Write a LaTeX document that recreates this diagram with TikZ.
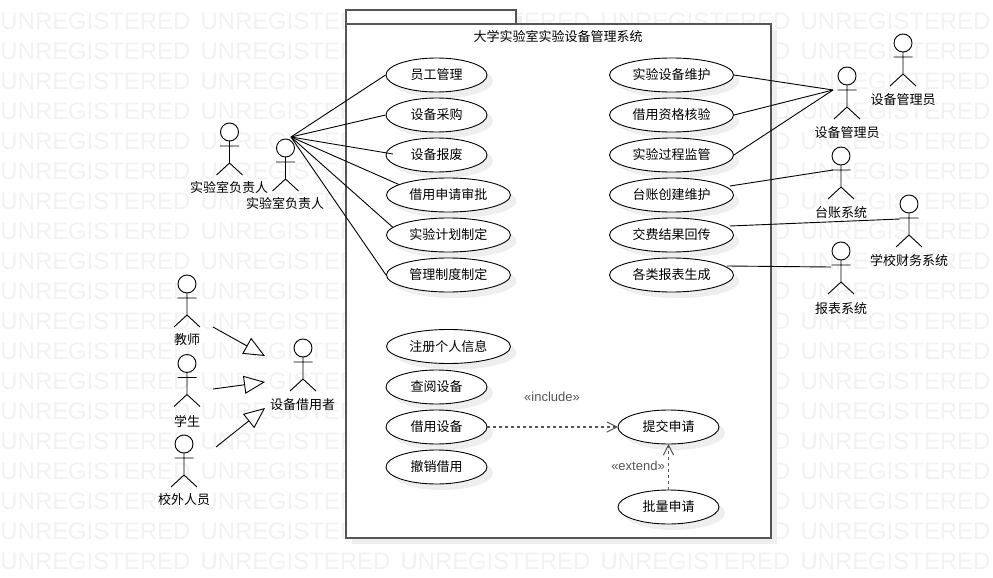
\documentclass[tikz,border=0pt]{standalone}
\usepackage{fontspec}
\setmainfont{Liberation Sans}
\newfontfamily\cjkfam{Noto Sans CJK SC}
\usetikzlibrary{shapes.geometric,arrows.meta,shadows}
\definecolor{wmgray}{HTML}{F2F2F2}
\definecolor{shadegray}{HTML}{EEEEEE}
\definecolor{framegray}{HTML}{555555}
\tikzset{
  wmtext/.style={font=\fontsize{23.9}{26}\selectfont,text=wmgray,inner sep=0pt,anchor=west},
  usecase/.style={shape=ellipse,draw=black,fill=white,line width=0.9pt,inner sep=0pt,
    minimum height=34pt,font=\cjkfam\fontsize{13}{15}\selectfont,
    general shadow={fill=shadegray,shadow xshift=6pt,shadow yshift=-6pt}},
  ucshort/.style={usecase,minimum width=101pt},
  uclong/.style={usecase,minimum width=124pt},
  actorlabel/.style={inner sep=0pt,font=\cjkfam\fontsize{13}{15}\selectfont},
  stereo/.style={inner sep=0pt,text=framegray,font=\fontsize{13}{15}\selectfont},
  assoc/.style={draw=black,line width=0.9pt},
  gener/.style={draw=black,line width=0.9pt,-{Triangle[open,length=21pt,width=18pt,fill=white]}},
  depend/.style={draw=framegray,line width=1.1pt,dash pattern=on 3pt off 3pt,-{Straight Barb[length=10pt,width=10pt,line width=1pt,round=false]}},
  frameline/.style={draw=framegray,line width=1.5pt,fill=white},
  figure/.pic={
    \draw[black,line width=0.9pt] (-9.5,14) -- (9.5,14) (0,9) -- (0,31) (-13,43) -- (0,31) -- (13,43);
    \draw[black,line width=0.9pt,fill=white] (0,0) circle [radius=9pt];
  }
}
\begin{document}
\begin{tikzpicture}[x=1pt,y=-1pt]
\useasboundingbox (0,0) rectangle (993,578);
\fill[white] (0,0) rectangle (993,578);
% watermark
\foreach \cx in {0,200,400,600,800}
  \foreach \ry in {21.5,51.5,...,561.5}
    \node[wmtext] at (\cx+0.3,\ry) {UNREGISTERED};
% system frame
\fill[shadegray] (352,30) rectangle (777,544);
\fill[shadegray] (352,16) rectangle (522,30);
\path[frameline] (346,10) rectangle (516,24);
\path[frameline] (346,24) rectangle (771,538);
\node[actorlabel] (title) at (558,37) {大学实验室实验设备管理系统};
% left use cases
\node[ucshort] (u1) at (436.5,75) {员工管理};
\node[ucshort] (u2) at (436.5,115) {设备采购};
\node[ucshort] (u3) at (436.5,155) {设备报废};
\node[uclong,anchor=west] (u4) at (386,195) {借用申请审批};
\node[uclong,anchor=west] (u5) at (386,235) {实验计划制定};
\node[uclong,anchor=west] (u6) at (386,275) {管理制度制定};
% right use cases
\node[uclong] (r1) at (671.5,75) {实验设备维护};
\node[uclong] (r2) at (671.5,115) {借用资格核验};
\node[uclong] (r3) at (671.5,155) {实验过程监管};
\node[uclong] (r4) at (671.5,195) {台账创建维护};
\node[uclong] (r5) at (671.5,235) {交费结果回传};
\node[uclong] (r6) at (671.5,275) {各类报表生成};
% lower use cases
\node[uclong,anchor=west] (b1) at (386,346.5) {注册个人信息};
\node[ucshort] (b2) at (436.5,387) {查阅设备};
\node[ucshort] (b3) at (436.5,427) {借用设备};
\node[ucshort] (b4) at (436.5,467) {撤销借用};
\node[ucshort] (b5) at (668.5,427) {提交申请};
\node[ucshort] (b6) at (668.5,507) {批量申请};
% actors
\pic at (229.5,132) {figure};
\node[actorlabel] (al1) at (229,188) {实验室负责人};
\pic at (285.5,148) {figure};
\node[actorlabel] (al2) at (285,204) {实验室负责人};
\pic at (187,284) {figure};
\node[actorlabel] (al3) at (187,340) {教师};
\pic at (187,363.5) {figure};
\node[actorlabel] (al4) at (187,421) {学生};
\pic at (184,444) {figure};
\node[actorlabel] (al5) at (184,500) {校外人员};
\pic at (303,348) {figure};
\node[actorlabel] (al6) at (302.5,405) {设备借用者};
\pic at (847,76) {figure};
\node[actorlabel] (al7) at (847,133) {设备管理员};
\pic at (903,43) {figure};
\node[actorlabel] (al8) at (903,100) {设备管理员};
\pic at (841,156) {figure};
\node[actorlabel] (al9) at (841,213) {台账系统};
\pic at (909,204) {figure};
\node[actorlabel] (al10) at (909,261) {学校财务系统};
\pic at (841,251) {figure};
\node[actorlabel] (al11) at (841,309) {报表系统};
% connector ends
\coordinate (lead) at (291,137);
\coordinate (keeper) at (833,90);
\coordinate (ledger) at (833,170);
\coordinate (ledgerUse) at (730,186);
\coordinate (finance) at (900,219);
\coordinate (financeUse) at (730,226);
\coordinate (report) at (831,267);
\coordinate (reportUse) at (727,266);
\coordinate (scrapEnd) at (393,154);
\coordinate (tA) at (213,327);
\coordinate (hA) at (265,356);
\coordinate (tB) at (213,389);
\coordinate (hB) at (265,382);
\coordinate (tC) at (216,447);
\coordinate (hC) at (265,408);
% associations
\draw[assoc] (lead) -- (u1.west);
\draw[assoc] (lead) -- (u2.west);
\draw[assoc] (lead) -- (scrapEnd);
\draw[assoc] (lead) -- (u4.168);
\draw[assoc] (lead) -- (u5.172);
\draw[assoc] (lead) -- (u6.west);
\draw[assoc] (r1.east) -- (keeper);
\draw[assoc] (r2.east) -- (keeper);
\draw[assoc] (r3.east) -- (keeper);
\draw[assoc] (ledgerUse) -- (ledger);
\draw[assoc] (financeUse) -- (finance);
\draw[assoc] (reportUse) -- (report);
% generalizations
\draw[gener] (tA) -- (hA);
\draw[gener] (tB) -- (hB);
\draw[gener] (tC) -- (hC);
% dependencies
\draw[depend] (b3.east) -- (b5.west);
\draw[depend] (b6.north) -- (b5.south);
\node[stereo] (inc) at (552,397) {«include»};
\node[stereo] (ext) at (638,466) {«extend»};
\end{tikzpicture}
\end{document}
